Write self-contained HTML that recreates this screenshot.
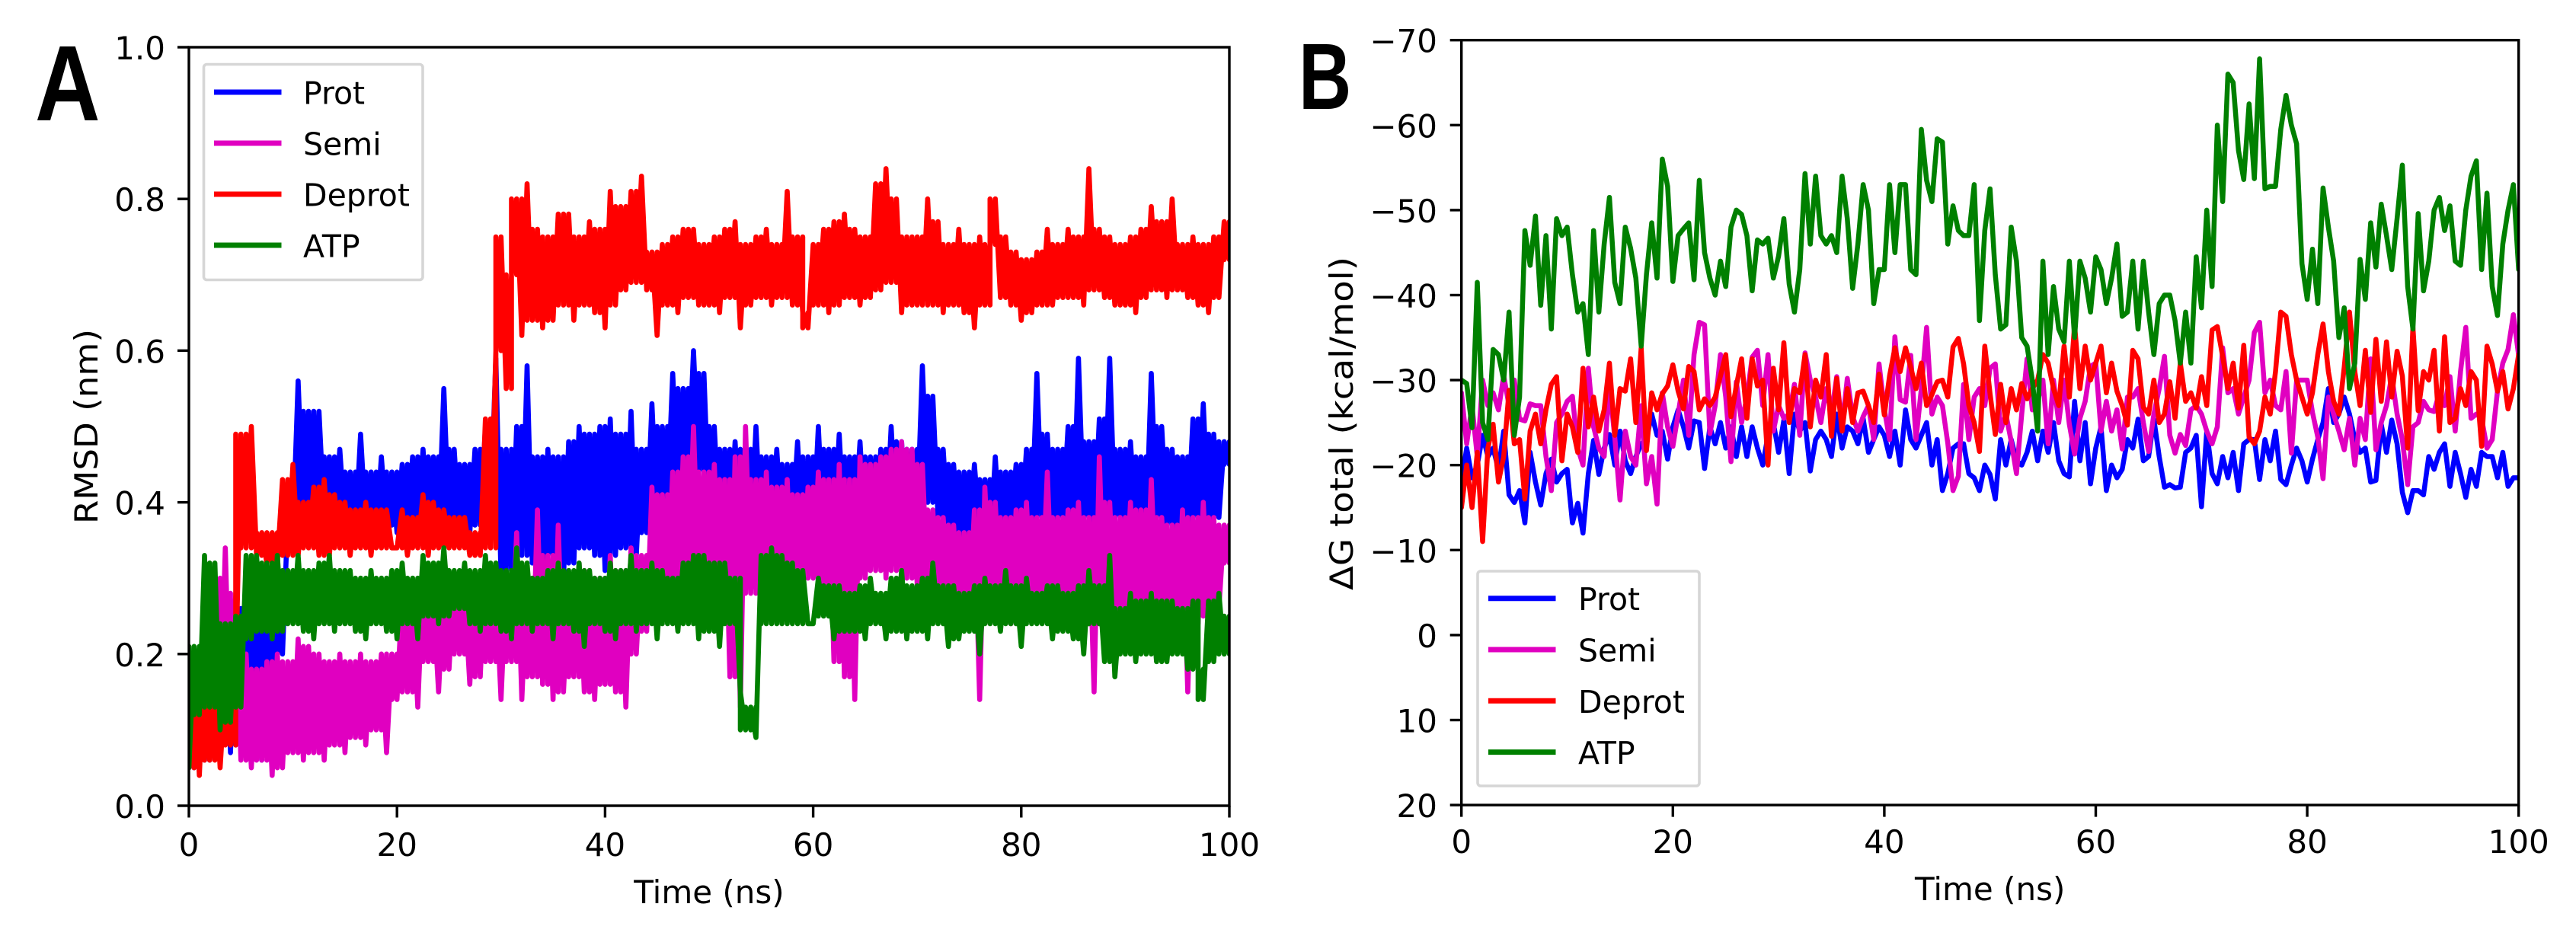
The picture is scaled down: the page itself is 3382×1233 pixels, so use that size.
<!DOCTYPE html>
<html lang="en">
<head>
<meta charset="utf-8">
<title>RMSD and binding free energy over time</title>
<style>
html,body{margin:0;padding:0;background:#fff;}
svg{display:block;}
text{font-family:"DejaVu Sans","Liberation Sans",sans-serif;fill:#000;}
.panel-letter{font-family:"Liberation Sans",sans-serif;font-weight:700;}
</style>
</head>
<body>
<svg id="figure" xmlns="http://www.w3.org/2000/svg" width="3382" height="1233" viewBox="0 0 3382 1233">
  <rect x="0" y="0" width="3382" height="1233" fill="#ffffff"/>
  <defs>
    <clipPath id="clipA"><rect x="248" y="62" width="1366" height="996"/></clipPath>
    <clipPath id="clipB"><rect x="1918.7" y="52.7" width="1388" height="1004.4"/></clipPath>
  </defs>
  <g id="panelA"></g>
  <g id="panelB"></g>
  <text class="panel-letter" font-size="141" transform="translate(46,158) scale(0.84,1)">A</text>
  <text class="panel-letter" font-size="123" transform="translate(1705,143) scale(0.78,1)">B</text>
</svg>
<script>
// ---------- Chart data ----------
const seriesNames = ["Prot", "Semi", "Deprot", "ATP"];
const timeTicks = [0, 20, 40, 60, 80, 100];
const rmsdTicks = [0.0, 0.2, 0.4, 0.6, 0.8, 1.0];
const rmsdTickLabels = ["0.0", "0.2", "0.4", "0.6", "0.8", "1.0"];
const dgTicks = [-70, -60, -50, -40, -30, -20, -10, 0, 10, 20];
const dgTickLabels = ["\u221270", "\u221260", "\u221250", "\u221240", "\u221230", "\u221220", "\u221210", "0", "10", "20"];

// RMSD (nm), one sample every 0.5 ns from 0 to 100 ns
const rmsdProt = [
.05,.18,.05,.20,.06,.22,.10,.25,.07,.27,.08,.26,.10,.27,.06,.29,.07,.29,.20,.38,
.36,.56,.38,.52,.38,.52,.38,.46,.37,.47,.37,.44,.36,.49,.37,.44,.36,.46,.37,.44,
.36,.45,.37,.46,.36,.47,.37,.46,.36,.55,.37,.47,.36,.45,.36,.47,.37,.50,.39,.59,
.30,.47,.31,.50,.33,.58,.32,.46,.31,.47,.33,.46,.30,.48,.32,.50,.34,.49,.33,.50,
.31,.51,.33,.49,.34,.52,.33,.47,.36,.53,.38,.50,.40,.57,.42,.55,.44,.60,.44,.57,
.38,.50,.36,.47,.37,.48,.36,.47,.35,.50,.36,.46,.35,.47,.36,.45,.37,.48,.36,.46,
.36,.50,.35,.47,.36,.49,.36,.46,.37,.48,.36,.46,.37,.47,.36,.50,.37,.48,.36,.47,
.38,.58,.40,.54,.38,.47,.36,.45,.35,.44,.35,.45,.36,.43,.34,.46,.35,.44,.36,.45,
.36,.47,.37,.57,.38,.49,.36,.47,.38,.50,.37,.59,.38,.48,.36,.51,.38,.59,.38,.47,
.36,.48,.37,.46,.36,.57,.38,.50,.37,.47,.36,.46,.37,.51,.38,.53,.37,.49,.38,.48,.45];
const rmsdSemi = [
.06,.14,.07,.17,.08,.30,.10,.34,.09,.28,.06,.20,.05,.18,.06,.19,.04,.20,.05,.19,
.07,.22,.06,.21,.07,.20,.06,.19,.08,.20,.07,.19,.09,.20,.08,.19,.10,.20,.07,.20,
.14,.28,.15,.27,.13,.30,.19,.27,.15,.29,.18,.30,.20,.28,.16,.30,.17,.32,.19,.29,
.14,.30,.19,.36,.14,.30,.17,.39,.16,.33,.14,.37,.15,.29,.17,.32,.15,.31,.14,.30,
.16,.33,.15,.31,.13,.34,.20,.33,.23,.42,.27,.41,.28,.44,.27,.46,.30,.50,.29,.44,
.30,.45,.28,.43,.17,.46,.13,.50,.28,.43,.27,.44,.28,.42,.29,.43,.27,.41,.28,.42,
.30,.44,.28,.43,.19,.45,.17,.43,.14,.46,.30,.45,.31,.46,.30,.47,.31,.48,.30,.47,
.29,.45,.28,.39,.26,.38,.27,.37,.24,.36,.25,.39,.14,.42,.27,.40,.26,.38,.24,.39,
.25,.40,.26,.38,.27,.44,.26,.38,.25,.39,.27,.40,.24,.38,.15,.46,.24,.40,.25,.38,
.26,.40,.25,.39,.24,.43,.26,.38,.25,.37,.23,.39,.15,.38,.24,.40,.25,.38,.26,.37,.32];
const rmsdDeprot = [
.05,.20,.04,.19,.06,.18,.05,.16,.08,.17,.49,.34,.50,.33,.36,.32,.36,.32,.43,.33,
.45,.33,.40,.34,.42,.33,.43,.33,.41,.34,.40,.33,.39,.34,.40,.33,.39,.34,.39,.34,
.34,.39,.33,.38,.34,.41,.33,.40,.34,.39,.34,.38,.34,.38,.33,.36,.33,.51,.34,.60,
.75,.55,.70,.80,.62,.82,.64,.76,.63,.75,.64,.78,.66,.78,.64,.75,.66,.77,.65,.76,
.63,.81,.66,.79,.68,.81,.69,.83,.68,.73,.62,.74,.66,.75,.65,.76,.67,.76,.66,.74,
.66,.75,.65,.76,.67,.77,.63,.74,.66,.75,.67,.76,.66,.74,.67,.81,.66,.75,.65,.63,
.74,.66,.76,.65,.77,.66,.78,.67,.76,.66,.75,.67,.82,.68,.84,.69,.80,.65,.75,.66,
.75,.66,.80,.66,.77,.65,.74,.66,.76,.65,.74,.63,.75,.66,.74,.80,.67,.75,.66,.73,
.64,.72,.65,.73,.66,.76,.66,.74,.67,.76,.67,.75,.66,.84,.68,.76,.67,.75,.66,.74,
.66,.75,.65,.76,.67,.79,.68,.77,.67,.80,.68,.74,.67,.75,.66,.74,.65,.75,.67,.77,.72];
const rmsdATP = [
.05,.21,.12,.33,.13,.32,.10,.24,.11,.25,.13,.33,.22,.33,.23,.32,.22,.33,.23,.31,
.24,.33,.23,.31,.22,.32,.24,.33,.23,.31,.24,.31,.23,.30,.22,.31,.24,.30,.23,.31,
.22,.32,.24,.30,.22,.33,.25,.32,.24,.34,.25,.31,.26,.32,.24,.31,.23,.33,.24,.32,
.23,.31,.22,.34,.24,.32,.23,.30,.24,.31,.22,.32,.24,.31,.23,.32,.21,.31,.24,.30,
.23,.32,.22,.31,.24,.33,.23,.31,.24,.32,.22,.31,.24,.30,.23,.32,.24,.33,.22,.33,
.23,.32,.21,.32,.24,.30,.15,.10,.13,.09,.33,.24,.34,.24,.33,.24,.32,.24,.31,.24,
.24,.30,.25,.29,.22,.29,.23,.28,.23,.29,.22,.30,.24,.28,.22,.30,.23,.31,.22,.29,
.23,.30,.22,.32,.24,.29,.21,.29,.22,.28,.23,.29,.20,.30,.24,.29,.23,.31,.24,.29,
.21,.30,.24,.28,.24,.29,.22,.29,.23,.28,.22,.29,.20,.31,.24,.29,.19,.33,.17,.26,
.20,.28,.19,.27,.20,.28,.19,.27,.19,.27,.20,.26,.18,.27,.18,.14,.27,.19,.28,.20,.25];

// Delta G total (kcal/mol), one sample every 0.5 ns from 0 to 100 ns
const dgProt = [
-18,-22,-18.5,-20,-23.5,-21,-22,-19.5,-24,-16.5,-15.6,-17,-13.2,-21.5,-18,-15.3,-19,-20.7,-18,-19,
-19.5,-13.2,-15.5,-12,-19,-22.9,-18.9,-22,-23.6,-20,-24,-20.5,-19,-21,-22.5,-23,-26,-23.5,-24,-20.7,
-24.5,-26.5,-24.5,-22,-25.2,-25,-19.6,-24.5,-22.5,-25,-22,-24.5,-21,-24.5,-21,-24.5,-22,-20,-23.5,-25,
-21.5,-25.3,-19,-26,-24,-25,-19.3,-23,-24,-23,-21,-26,-22,-24.5,-24,-22.5,-25.5,-21.5,-23,-24.5,
-23.5,-21,-24,-20,-26.5,-23,-22,-23.5,-25,-20,-23,-17,-19,-22,-22.5,-22.5,-19,-18.5,-17,-20,
-18.9,-16,-23,-20,-23,-20.5,-20,-21.5,-24,-20.5,-24,-21.5,-25,-20.5,-19,-18.6,-27.5,-20.5,-25,-17.8,
-22,-24.5,-17,-20,-18.5,-19.5,-23,-22,-25.4,-20.5,-21,-25.4,-21,-17.4,-17.7,-17.3,-17.4,-21.5,-22,-23.5,
-15.1,-24,-19,-17.8,-21,-18.5,-21.5,-17,-22.5,-23,-23,-18.3,-23,-20.5,-24,-18.3,-17.7,-20,-22,-20.5,
-18,-20.7,-23,-25,-29,-25,-26,-28,-26,-23,-21.5,-22,-18,-18.2,-24.8,-21.5,-25.3,-22.5,-16.8,-14.4,
-17,-17,-16.5,-21,-19.5,-21.5,-22.5,-17.5,-21.5,-19,-16.2,-19.5,-17.5,-21.5,-21,-21,-18.5,-21.5,-17.5,-18.5,-18.5];
const dgSemi = [
-28.5,-22.5,-27,-21,-30,-27,-28.5,-26.5,-30.5,-27,-30,-25.4,-25.2,-27.2,-27,-27,-21,-17,-25,-26,
-27.5,-28.1,-22,-20,-31.4,-24.5,-22,-21,-29.3,-23.3,-15.9,-24,-21,-20,-27,-17.8,-21,-15.4,-28.5,-24.5,
-22.2,-26,-30,-23.5,-33,-36.8,-36.5,-23.7,-27,-33,-28,-20.4,-29.8,-25,-28,-32.7,-33.5,-27,-33,-24,
-27,-25.5,-26,-29.5,-23.5,-33.2,-30,-28,-25,-29,-26,-30.4,-24.5,-30.2,-25.7,-24,-25.7,-27,-23,-31.9,
-26.6,-23,-35.1,-27.7,-27.4,-32.9,-23,-29,-36.2,-26,-28,-27,-22.6,-17,-18.7,-29.5,-23,-28,-29,-27,
-31.4,-31.9,-24,-26,-22.8,-19,-26,-32.5,-26.5,-27.5,-30,-22.5,-30,-25,-30,-24.8,-21.3,-25.5,-27.5,-31.6,
-32,-24,-27.5,-24,-26.5,-21.9,-28,-28,-29,-25,-21.6,-26,-29,-32.8,-23.5,-21.4,-23.6,-22.3,-26.5,-27,
-26,-24,-22.5,-24.5,-33.8,-28.5,-29,-26,-28,-30,-35.6,-36.8,-28.5,-30,-27,-26.5,-31,-21.4,-30,-30,
-30,-26.2,-23.3,-18.4,-28,-26,-24,-21.8,-25.5,-20,-25.5,-23,-32.5,-21.8,-25,-27,-30.5,-26,-23,-17.7,
-24.5,-25,-27.5,-26.5,-26.3,-28.5,-27,-30.4,-24,-31,-36.2,-25.5,-26,-25.5,-22,-23,-28.7,-32,-33.6,-37.7,-32.9];
const dgDeprot = [
-15,-20,-15,-21.5,-11,-22,-24.8,-18,-21,-28.8,-22.5,-23,-16,-24,-26,-22.5,-26.5,-29.5,-30.4,-20.5,
-26,-24.5,-21.5,-31.4,-24.5,-28,-24,-26.5,-32,-23.5,-29,-28.7,-32.5,-25,-33.8,-21.7,-28.5,-26.5,-28.4,-29.3,
-31.8,-28.7,-26.6,-31.6,-31,-26.5,-27.8,-27,-28,-30.5,-33,-25.7,-29.3,-32.5,-25.5,-32.5,-29.3,-30,-20,-31.4,
-26.5,-34.4,-25,-29,-28.5,-33,-24.5,-30,-28,-33,-23.4,-30.2,-24,-29,-25,-28.5,-28.7,-27,-25,-30.7,
-25.9,-30.5,-33.8,-31,-33.8,-31.5,-29,-32,-27,-28.3,-29.8,-30,-28,-33.9,-34.9,-31.9,-27,-25,-21.6,-34,
-28.4,-23.6,-29.5,-25,-29,-26.5,-29.6,-27.8,-29,-30,-33,-32,-29,-27,-34,-28,-36.5,-29,-34,-30,
-32,-34,-28.5,-32,-28.7,-27,-24.7,-33.5,-32.5,-26.8,-26,-30,-25,-26,-29.8,-25.5,-32,-27.5,-28.5,-26.7,
-30.4,-27,-35.9,-36.3,-32.8,-29,-32,-26.7,-34.1,-23.3,-22.5,-24,-28,-26,-31,-38,-37.5,-33,-30,-28,
-26,-28.5,-33,-36.6,-31,-27.5,-26,-31.5,-38,-31,-27,-33.5,-26.2,-34.8,-27.5,-34.5,-28,-33.4,-30.5,-22,
-36.2,-26.4,-31,-30,-33.5,-24,-35.1,-25,-25.5,-29,-27,-31,-30,-22.2,-34,-31.9,-28.7,-31,-26.6,-29,-33];
const dgATP = [
-30,-29.6,-24.4,-41.5,-25,-23,-33.6,-33,-30,-38,-23.5,-28,-47.6,-43.5,-49.3,-38.8,-47,-36,-49,-47,
-48,-42.4,-38,-39,-33,-47.6,-38,-46,-51.5,-41.5,-39,-48,-45.5,-42,-34,-42.4,-48.5,-42,-56,-52.8,
-41.6,-47,-47.8,-48.5,-41.8,-53.5,-45,-42,-40,-44,-41,-48,-50,-49.5,-47,-40.5,-46.5,-46,-46.7,-42,
-44.6,-49,-41.3,-38,-43,-54.3,-46,-54,-47,-46,-47,-45,-54,-49,-40.8,-46,-53,-50,-39,-43,
-43,-53,-45,-53,-53,-43,-42.4,-59.5,-53.5,-51,-58.4,-58,-46,-50.5,-47.6,-47,-47,-53,-37,-47.6,
-52.5,-42.4,-36,-36.5,-48,-44,-35,-34,-30,-24,-44,-33,-41,-36,-34.5,-44,-35,-44,-42,-38,
-44.5,-43,-39,-42,-46,-37.5,-38,-44,-36,-44,-38,-33,-39,-40,-40,-37,-32,-38,-32,-44.5,
-38.5,-50,-41,-60,-51,-66,-65,-57,-53.6,-62.5,-53.7,-67.8,-52.5,-52.8,-52.8,-59.5,-63.5,-60,-57.8,-43.7,
-39.5,-45.4,-39,-52.6,-48,-44,-35,-38.5,-29,-32,-44.2,-39.5,-48.5,-43.3,-50.7,-47,-43,-49,-55.3,-41,
-36,-49.6,-40.5,-44,-50,-51.5,-47.6,-50.5,-44,-43.5,-50,-54,-55.8,-43,-52,-41,-37.6,-46,-50,-53,-43];

// ---------- Drawing ----------
const SVG_NS = "http://www.w3.org/2000/svg";
const seriesColors = ["#0000ff", "#e000c0", "#ff0000", "#008000"];

function make(parent, tag, attrs) {
  const el = document.createElementNS(SVG_NS, tag);
  for (const k in attrs) el.setAttribute(k, attrs[k]);
  parent.appendChild(el);
  return el;
}

function axisScale(d0, d1, p0, p1) {
  return function (v) { return p0 + (v - d0) * (p1 - p0) / (d1 - d0); };
}

// Dense trace: the sample-to-sample line, plus one vertical stroke per sample
// so the inside of a fast-oscillating signal reads as a solid band.
function denseTracePath(values, x, y) {
  let d = "";
  values.forEach(function (v, i) {
    const t = 100 * i / (values.length - 1);
    d += (i === 0 ? "M" : "L") + x(t).toFixed(1) + " " + y(v).toFixed(1);
  });
  values.forEach(function (v, i) {
    const t = 100 * i / (values.length - 1);
    const prev = i > 0 ? values[i - 1] : values[i + 1];
    const next = i < values.length - 1 ? values[i + 1] : values[i - 1];
    const hiN = Math.max(prev, next);
    const loN = Math.min(prev, next);
    let a, b;
    if (v >= hiN) { a = hiN; b = v; }
    else if (v <= loN) { a = v; b = loN; }
    else { a = loN; b = hiN; }
    d += "M" + x(t).toFixed(1) + " " + y(a).toFixed(1) + "V" + y(b).toFixed(1);
  });
  return d;
}

function drawPanel(cfg) {
  const g = cfg.group;
  const x = axisScale(0, 100, cfg.left, cfg.right);
  const y = axisScale(cfg.yMin, cfg.yMax, cfg.yMinPx, cfg.yMaxPx);

  // series
  const plot = make(g, "g", { "clip-path": "url(#" + cfg.clip + ")" });
  
  
  cfg.series.forEach(function (values, s) {
    let line;
    if (cfg.dense) {
      line = make(plot, "path", {
        d: denseTracePath(values, x, y), fill: "none", stroke: seriesColors[s],
        "stroke-width": 6.6, "stroke-linecap": "round", "stroke-linejoin": "round"
      });
    } else {
      const pts = values.map(function (v, i) {
        const t = 100 * i / (values.length - 1);
        return x(t).toFixed(1) + "," + y(v).toFixed(1);
      }).join(" ");
      line = make(plot, "polyline", {
        points: pts, fill: "none", stroke: seriesColors[s],
        "stroke-width": 6.5, "stroke-linejoin": "round", "stroke-linecap": "round"
      });
    }
    
    
  });

  // frame
  const frame = make(g, "rect", {
    x: cfg.left, y: cfg.top, width: cfg.right - cfg.left, height: cfg.bottom - cfg.top,
    fill: "none", stroke: "#000", "stroke-width": 3.4
  });
  
  

  // x ticks
  timeTicks.forEach(function (t) {
    const tick = make(g, "line", {
      x1: x(t), x2: x(t), y1: cfg.bottom, y2: cfg.bottom + 15.5, stroke: "#000", "stroke-width": 3.4
    });
    
    
    const label = make(g, "text", {
      x: x(t), y: cfg.xLabelBase, "text-anchor": "middle", "font-size": 42
    });
    label.textContent = String(t);
    
    
  });

  // y ticks
  cfg.yTicks.forEach(function (v, i) {
    const tick = make(g, "line", {
      x1: cfg.left - 15, x2: cfg.left, y1: y(v), y2: y(v), stroke: "#000", "stroke-width": 3.4
    });
    
    
    const label = make(g, "text", {
      x: cfg.yLabelRight, y: y(v) + 16, "text-anchor": "end", "font-size": 42
    });
    label.textContent = cfg.yTickLabels[i];
    
    
  });

  // axis titles
  const xTitle = make(g, "text", {
    x: (cfg.left + cfg.right) / 2, y: cfg.xTitleBase, "text-anchor": "middle", "font-size": 42
  });
  xTitle.textContent = "Time (ns)";
  
  

  const yTitle = make(g, "text", {
    "text-anchor": "middle", "font-size": 42,
    textLength: cfg.yTitleLength, lengthAdjust: "spacingAndGlyphs",
    transform: "translate(" + cfg.yTitleX + "," + cfg.yTitleY + ") rotate(-90)"
  });
  yTitle.textContent = cfg.yTitle;
  
  

  // legend
  const legend = make(g, "g", {});
  
  
  const box = make(legend, "rect", {
    x: cfg.legend.x, y: cfg.legend.y, width: cfg.legend.w, height: cfg.legend.h, rx: 4, ry: 4,
    fill: "#fff", stroke: "#d6d6d6", "stroke-width": 3.6
  });
  
  
  seriesNames.forEach(function (name, s) {
    const rowY = cfg.legend.firstRow + s * cfg.legend.rowGap;
    const entry = make(legend, "line", {
      x1: cfg.legend.lineX, x2: cfg.legend.lineX + 88.5, y1: rowY, y2: rowY,
      stroke: seriesColors[s], "stroke-width": 7
    });
    
    
    const label = make(legend, "text", { x: cfg.legend.textX, y: rowY + 15.5, "font-size": 41 });
    label.textContent = name;
    
    
  });
}

drawPanel({
  group: document.getElementById("panelA"), clip: "clipA", dense: true,
  left: 248, right: 1614, top: 62, bottom: 1058,
  yMin: 0, yMax: 1, yMinPx: 1058, yMaxPx: 62,
  yTicks: rmsdTicks, yTickLabels: rmsdTickLabels,
  series: [rmsdProt, rmsdSemi, rmsdDeprot, rmsdATP],
  xLabelBase: 1124, xTitleBase: 1186, yLabelRight: 217,
  yTitle: "RMSD (nm)", yTitleX: 128, yTitleY: 560, yTitleLength: 256,
  legend: { x: 267.5, y: 84.5, w: 287.5, h: 283, firstRow: 121, rowGap: 67, lineX: 281, textX: 398 }
});

drawPanel({
  group: document.getElementById("panelB"), clip: "clipB", dense: false,
  left: 1918.7, right: 3306.7, top: 52.7, bottom: 1057.1,
  yMin: -70, yMax: 20, yMinPx: 52.7, yMaxPx: 1057.1,
  yTicks: dgTicks, yTickLabels: dgTickLabels,
  series: [dgProt, dgSemi, dgDeprot, dgATP],
  xLabelBase: 1120, xTitleBase: 1182, yLabelRight: 1887,
  yTitle: "\u0394G total (kcal/mol)", yTitleX: 1776, yTitleY: 556, yTitleLength: 438,
  legend: { x: 1940, y: 750, w: 291, h: 282, firstRow: 785.7, rowGap: 67.3, lineX: 1954, textX: 2072 }
});
</script>
</body>
</html>
